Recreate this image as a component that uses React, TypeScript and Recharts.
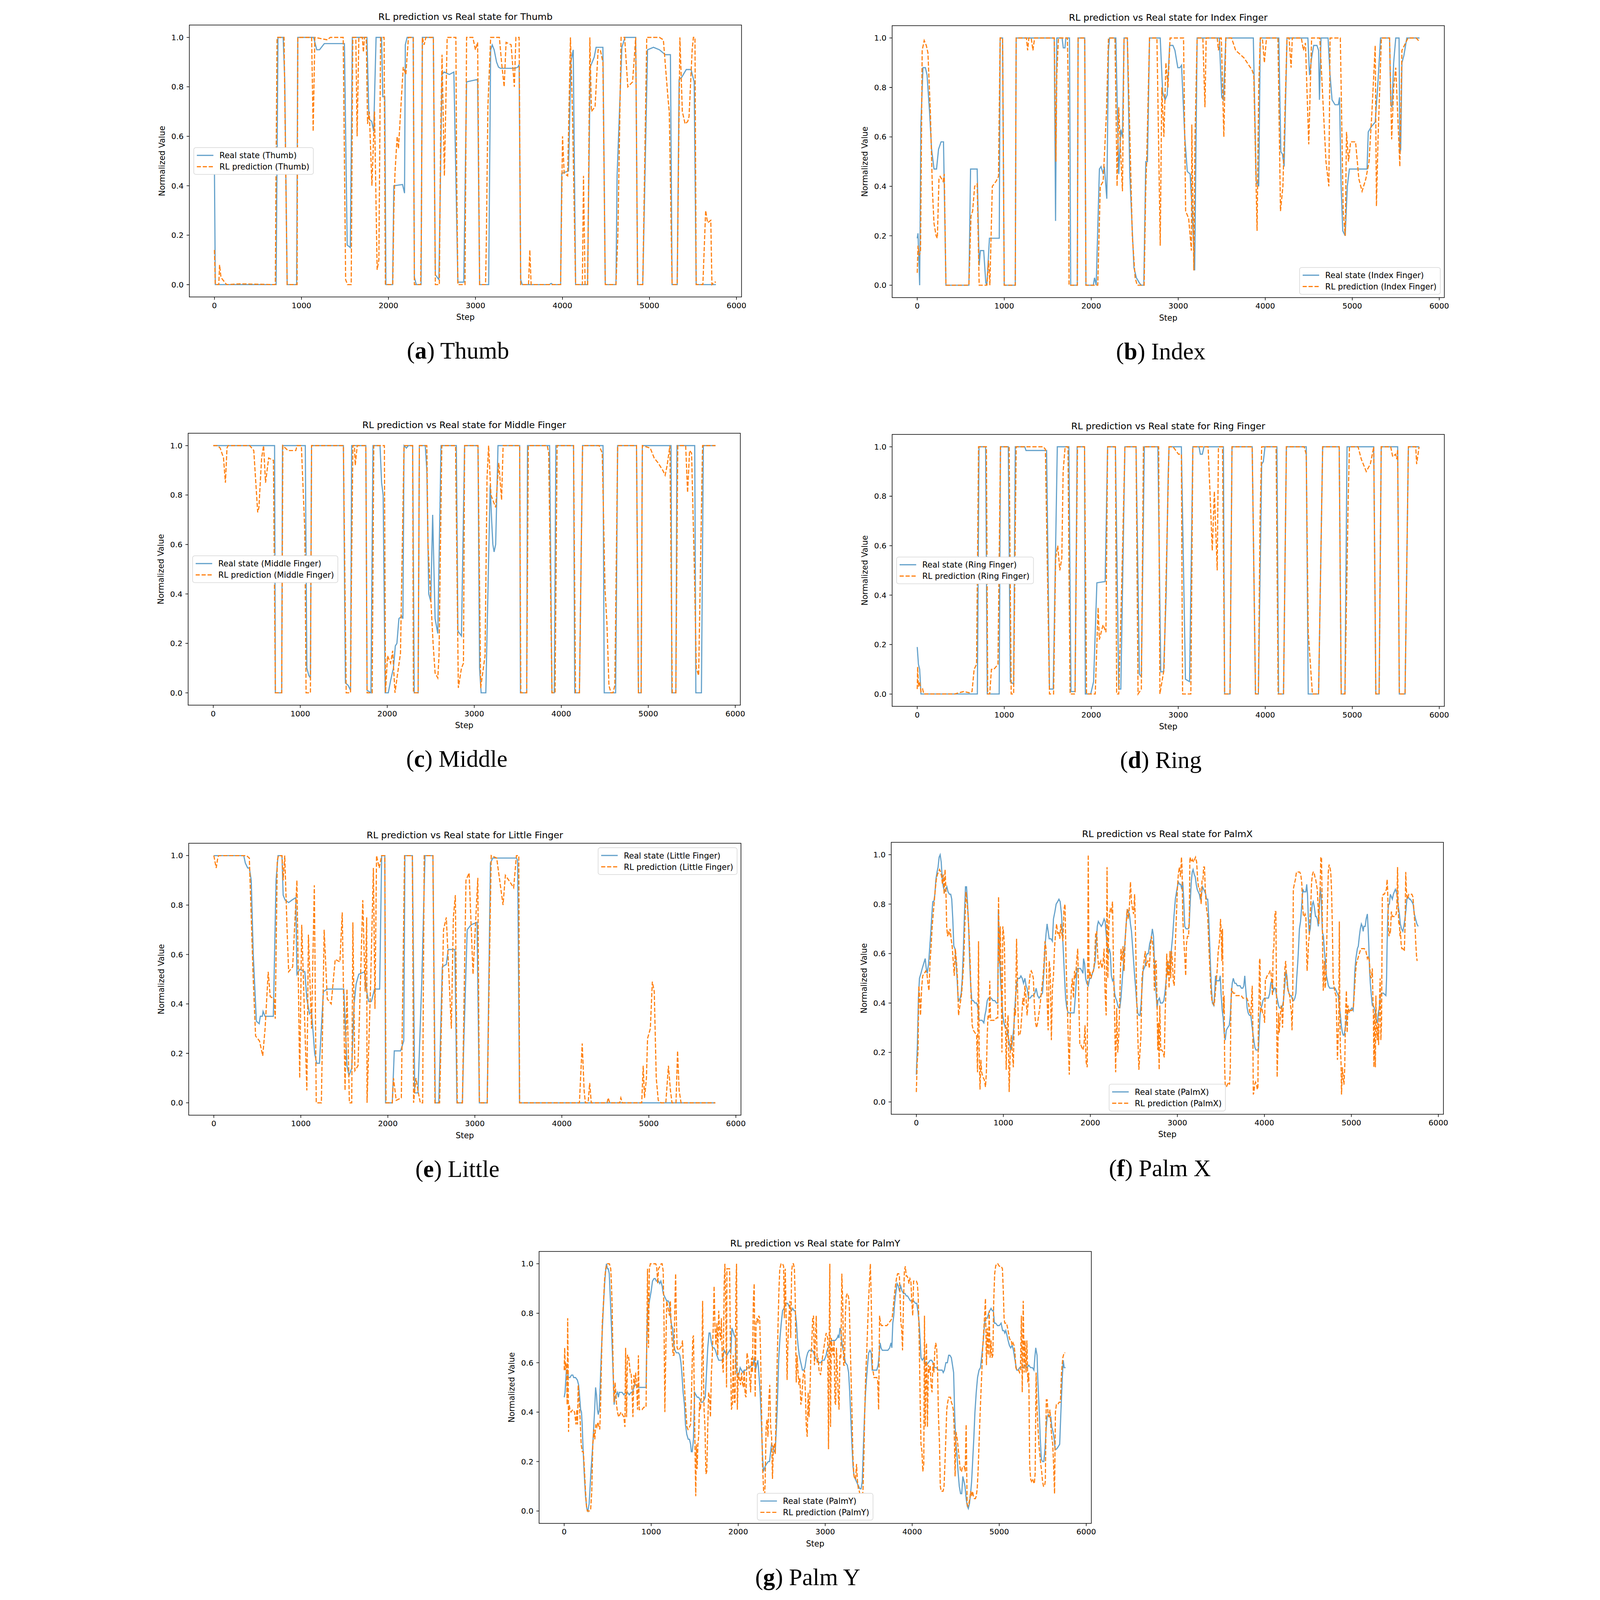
import { LineChart, Line, XAxis, YAxis } from 'recharts'

type Pt = [number, number]

// step / value pairs
const thumbReal: Pt[] = [[0,0.47],[10,0],[709,0],[730,1],[790,1],[808,0.83],[836,0],[945,0],[958,1],[1140,1],[1176,0.95],[1208,0.95],[1263,0.975],[1494,0.975],[1526,0.16],[1562,0.15],[1585,1],[1753,1],[1776,0.67],[1808,0.66],[1830,0.62],[1858,1],[1921,1],[1935,0.76],[1958,0.76],[1971,0],[2048,0],[2062,0.4],[2162,0.405],[2185,0.37],[2194,0.97],[2215,1],[2285,1],[2298,0.03],[2320,0],[2375,0],[2390,1],[2516,1],[2539,0.04],[2580,0.02],[2616,0.85],[2640,0.86],[2700,0.85],[2752,0.86],[2798,0.01],[2866,0.01],[2898,0.82],[3025,0.83],[3048,0],[3152,0],[3175,0.95],[3193,0.97],[3215,0.95],[3243,0.9],[3265,0.88],[3288,0.875],[3456,0.875],[3488,0.88],[3502,0.89],[3520,0.02],[3538,0],[3850,0],[3870,0.005],[3890,0],[3979,0],[3992,0.45],[4070,0.46],[4097,0.9],[4124,0.95],[4151,0],[4288,0],[4319,0.88],[4365,0.92],[4387,0.96],[4465,0.96],[4492,0],[4615,0],[4628,0.44],[4683,0.96],[4719,1],[4842,1],[4864,0],[4923,0],[4978,0.95],[5046,0.96],[5115,0.95],[5182,0.93],[5241,0.93],[5260,0],[5319,0],[5341,0.83],[5373,0.84],[5423,0.87],[5478,0.87],[5514,0.82],[5537,0],[5764,0]]
const thumbPred: Pt[] = [[0,0.14],[10,0],[50,0],[59,0.08],[75,0.03],[95,0.02],[140,0],[300,0.003],[700,0],[709,0.5],[720,1],[800,1],[836,0],[950,0],[958,1],[1117,1],[1135,0.62],[1154,1],[1300,0.99],[1330,1],[1480,1],[1508,0.02],[1530,0],[1572,0],[1590,1],[1625,1],[1640,0.6],[1660,1],[1700,1],[1712,0.94],[1725,1],[1745,1],[1760,0.65],[1780,0.7],[1790,0.6],[1810,0.4],[1840,0.7],[1870,0.06],[1890,0.1],[1910,1],[1950,1],[1965,0],[2050,0],[2062,0.3],[2075,0.45],[2100,0.6],[2115,0.55],[2140,0.7],[2170,0.88],[2200,0.85],[2230,1],[2285,1],[2298,0],[2370,0],[2378,0.2],[2390,1],[2410,0.97],[2430,1],[2516,1],[2539,0],[2585,0],[2600,0.6],[2616,0.93],[2643,0.44],[2675,1],[2775,1],[2784,0.45],[2798,0],[2880,0],[2898,1],[2970,1],[3000,0.95],[3025,0.98],[3048,0],[3116,0],[3125,0.17],[3143,0.72],[3175,1],[3275,1],[3300,0.9],[3330,0.8],[3352,0.98],[3410,0.97],[3447,0.8],[3465,1],[3502,1],[3520,0],[3610,0],[3625,0.14],[3640,0],[3979,0],[4001,0.6],[4020,0.45],[4060,0.44],[4092,1],[4115,0.7],[4151,0],[4229,0],[4242,0.44],[4260,0],[4290,0],[4315,1],[4333,0.7],[4375,0.72],[4410,0.95],[4435,0.95],[4465,0.9],[4492,0],[4615,0],[4637,0.2],[4674,1],[4715,1],[4751,0.8],[4806,0.82],[4842,1],[4864,0],[4923,0],[4969,1],[5115,1],[5160,0.99],[5214,0.75],[5228,0.7],[5260,0],[5319,0],[5350,1],[5378,0.7],[5410,0.65],[5440,0.66],[5455,0.68],[5491,0.95],[5505,1],[5523,1],[5537,0],[5614,0],[5646,0.3],[5668,0.25],[5705,0.26],[5718,0],[5750,0.01],[5764,0.01]]

const indexReal: Pt[] = [[0,0.19],[9,0.21],[28,0],[42,0.65],[66,0.88],[94,0.88],[113,0.85],[142,0.7],[165,0.55],[193,0.47],[222,0.47],[245,0.55],[274,0.58],[302,0.58],[330,0],[594,0],[613,0.47],[689,0.47],[712,0.08],[726,0.14],[764,0.14],[788,0.01],[800,0],[830,0.19],[943,0.19],[953,1],[981,1],[1000,0],[1127,0],[1137,1],[1575,1],[1590,0.26],[1604,1],[1665,1],[1679,0.96],[1698,0.96],[1708,1],[1750,1],[1764,0],[1840,0],[1849,1],[1925,1],[1939,0],[2024,0],[2038,0.03],[2057,0],[2094,0.47],[2113,0.48],[2137,0.45],[2151,0.48],[2179,0.35],[2198,0.95],[2210,1],[2283,1],[2316,0.45],[2340,0.63],[2359,0.6],[2377,1],[2415,1],[2443,0.45],[2472,0.22],[2491,0.07],[2519,0.03],[2552,0.01],[2575,0],[2604,0],[2627,0.5],[2646,0.5],[2670,1],[2793,1],[2821,0.78],[2849,0.75],[2873,0.77],[2901,0.97],[2939,0.97],[2962,0.95],[2995,0.88],[3019,0.88],[3038,0.89],[3075,0.6],[3104,0.46],[3137,0.45],[3160,0.3],[3189,0.06],[3217,1],[3472,1],[3500,0.76],[3519,0.75],[3547,1],[3863,1],[3896,0.42],[3925,0.4],[3943,1],[4156,1],[4179,0.54],[4198,0.53],[4217,0.48],[4250,1],[4490,1],[4509,0.85],[4533,0.92],[4557,0.97],[4594,0.97],[4613,0.95],[4623,0.75],[4641,1],[4722,1],[4745,0.85],[4768,0.75],[4802,0.73],[4840,0.73],[4854,0.76],[4872,0.4],[4891,0.22],[4919,0.2],[4943,0.4],[4967,0.47],[5170,0.47],[5184,0.62],[5217,0.64],[5264,0.66],[5292,0.8],[5325,1],[5429,1],[5443,0.73],[5457,0.72],[5476,0.9],[5500,1],[5538,1],[5547,0.53],[5557,0.55],[5571,0.9],[5594,0.93],[5627,1],[5773,1]]
const indexPred: Pt[] = [[0,0.05],[9,0.16],[24,0.12],[38,0.14],[57,0.95],[80,0.99],[104,0.97],[123,0.94],[151,0.7],[175,0.38],[193,0.25],[217,0.2],[231,0.19],[250,0.43],[264,0.44],[297,0.42],[311,0.45],[330,0],[594,0],[618,0.28],[637,0.3],[660,0.4],[689,0.41],[712,0],[800,0],[820,0.1],[835,0],[863,0.4],[906,0.42],[934,0.44],[953,1],[981,1],[1000,0],[1127,0],[1137,1],[1255,1],[1269,0.95],[1283,1],[1310,1],[1330,0.95],[1349,1],[1575,1],[1594,0.5],[1604,0.85],[1623,1],[1726,1],[1736,0.8],[1745,0],[1840,0],[1849,1],[1925,1],[1939,0],[2075,0],[2104,0.4],[2137,0.42],[2175,0.7],[2198,1],[2273,1],[2297,0.4],[2316,0.72],[2330,0.6],[2359,0.38],[2377,1],[2415,1],[2443,0.62],[2472,0.2],[2505,0.03],[2528,0],[2608,0],[2627,0.4],[2637,0.5],[2670,1],[2755,1],[2793,0.16],[2811,0.8],[2835,0.6],[2858,0.9],[2882,0.8],[2906,1],[3061,1],[3085,0.3],[3120,0.27],[3151,0.14],[3156,0.65],[3179,0.06],[3193,0.6],[3217,1],[3283,1],[3307,0.72],[3321,1],[3448,1],[3462,0.95],[3481,1],[3495,1],[3524,0.6],[3547,1],[3613,1],[3660,0.95],[3755,0.92],[3849,0.87],[3868,0.85],[3906,0.22],[3925,0.8],[3943,1],[3967,1],[3990,0.9],[4014,1],[4146,1],[4175,0.3],[4203,0.4],[4250,1],[4274,1],[4297,0.88],[4311,1],[4415,1],[4439,0.95],[4462,0.98],[4500,0.57],[4533,1],[4627,1],[4698,0.5],[4731,0.4],[4745,1],[4863,1],[4896,0.3],[4919,0.2],[4934,0.62],[4957,0.5],[4981,0.58],[5038,0.58],[5076,0.43],[5113,0.38],[5156,0.43],[5193,0.5],[5226,0.7],[5264,0.97],[5278,0.32],[5297,0.6],[5335,1],[5429,1],[5453,0.59],[5476,0.8],[5500,0.88],[5547,0.48],[5571,0.95],[5641,1],[5735,1],[5773,0.985]]

const middleReal: Pt[] = [[0,1],[705,1],[714,0],[787,0],[796,1],[1058,1],[1076,0.1],[1099,0.07],[1117,0.06],[1130,1],[1496,1],[1519,0.04],[1551,0.03],[1578,0.01],[1591,1],[1754,1],[1768,0.01],[1813,0],[1836,1],[1917,1],[1935,0.85],[1953,0.8],[1976,0],[2012,0],[2039,0.05],[2071,0.1],[2093,0.19],[2111,0.2],[2134,0.3],[2166,0.31],[2180,0.3],[2193,1],[2220,0.99],[2243,1],[2292,1],[2310,0],[2355,0],[2369,1],[2437,1],[2455,0.9],[2477,0.4],[2500,0.37],[2522,0.72],[2550,0.3],[2581,0.24],[2618,1],[2794,1],[2812,0.25],[2853,0.23],[2889,1],[3043,1],[3061,0.1],[3079,0],[3133,0],[3183,0.84],[3201,0.69],[3214,0.6],[3228,0.57],[3246,0.6],[3273,1],[3522,1],[3531,0],[3603,0],[3612,1],[3866,1],[3893,0],[3920,0],[3938,1],[4141,1],[4155,0],[4209,0],[4245,1],[4480,1],[4494,0],[4625,0],[4648,1],[4865,1],[4887,0],[4918,0],[4932,1],[5262,1],[5271,0],[5317,0],[5330,1],[5534,1],[5547,0],[5611,0],[5633,1],[5773,1]]
const middlePred: Pt[] = [[0,1],[50,1],[80,0.99],[118,0.95],[140,0.85],[158,0.99],[170,1],[420,1],[466,0.98],[511,0.73],[525,0.75],[556,0.95],[579,1],[601,0.85],[637,0.95],[692,0.94],[714,0],[787,0],[800,1],[859,0.98],[949,0.98],[963,1],[1013,1],[1053,0.65],[1067,0],[1117,0],[1130,1],[1496,1],[1528,0],[1578,0],[1587,0.4],[1605,1],[1623,1],[1632,0.92],[1655,1],[1754,1],[1768,0],[1827,0],[1845,1],[1967,1],[1980,0],[2003,0.15],[2039,0.12],[2062,0.17],[2089,0],[2116,0.07],[2152,0.16],[2193,1],[2292,1],[2301,0],[2355,0],[2369,1],[2455,1],[2468,0.6],[2527,0.2],[2550,0.08],[2581,0.06],[2595,0.15],[2627,1],[2785,1],[2817,0.02],[2853,0.1],[2876,0.12],[2889,1],[3043,1],[3074,0.02],[3124,0.15],[3147,0.87],[3165,1],[3192,0.8],[3246,0.75],[3282,0.93],[3314,0.78],[3332,1],[3522,1],[3535,0],[3603,0],[3621,1],[3839,1],[3856,0.97],[3893,0],[3929,0],[3952,1],[4141,1],[4164,0],[4209,0],[4245,1],[4435,1],[4471,0.97],[4503,0.42],[4525,0.28],[4548,0.03],[4571,0],[4594,0],[4616,0.03],[4648,1],[4865,1],[4887,0],[4918,0],[4932,1],[5023,0.99],[5068,0.95],[5113,0.93],[5167,0.9],[5194,0.88],[5217,0.92],[5249,1],[5276,0],[5317,0],[5339,1],[5430,1],[5452,0.81],[5475,0.98],[5498,0.97],[5530,0.5],[5552,0.1],[5579,0.07],[5624,1],[5773,1]]

const ringReal: Pt[] = [[0,0.19],[14,0.12],[28,0.1],[43,0],[691,0],[710,1],[786,1],[805,0],[942,0],[957,1],[1047,1],[1070,0.05],[1108,0.04],[1127,1],[1236,1],[1250,0.985],[1487,0.985],[1520,0.02],[1563,0.02],[1610,1],[1743,1],[1767,0.01],[1814,0.01],[1838,1],[1923,1],[1932,0],[1994,0],[2027,0.05],[2065,0.45],[2160,0.455],[2188,1],[2278,1],[2316,0.02],[2340,0.02],[2387,1],[2515,1],[2553,0.08],[2576,0.07],[2610,1],[2766,1],[2799,0.09],[2832,0.09],[2861,0.4],[2884,0.88],[2894,1],[3036,1],[3083,0.06],[3130,0.05],[3168,1],[3239,1],[3254,0.97],[3277,0.97],[3296,1],[3519,1],[3533,0],[3595,0],[3618,1],[3850,1],[3888,0],[3921,0],[3959,0.93],[3978,0.94],[3997,1],[4134,1],[4153,0],[4210,0],[4243,1],[4471,1],[4494,0],[4613,0],[4660,1],[4850,1],[4873,0],[4916,0],[4940,1],[5247,1],[5271,0],[5309,0],[5333,1],[5522,1],[5541,0],[5607,0],[5645,1],[5768,1]]
const ringPred: Pt[] = [[0,0.02],[5,0.11],[14,0.03],[28,0.05],[43,0.01],[62,0.02],[76,0],[431,0],[478,0.005],[535,0.01],[597,0.005],[630,0.01],[654,0.1],[682,0.12],[705,1],[795,1],[810,0],[833,0],[853,0.1],[881,0.1],[928,0.12],[957,1],[1056,1],[1080,0],[1108,0],[1137,1],[1449,1],[1473,0.99],[1520,0],[1567,0],[1591,0.55],[1615,0.6],[1639,0.5],[1662,0.55],[1677,0.9],[1700,1],[1733,1],[1757,0],[1814,0],[1842,1],[1923,1],[1946,0],[2046,0],[2079,0.35],[2093,0.22],[2136,0.28],[2169,0.25],[2188,1],[2278,1],[2292,0],[2316,0],[2349,0.42],[2387,1],[2515,1],[2538,0],[2576,0.02],[2600,1],[2775,1],[2789,0],[2813,0.05],[2837,0.1],[2894,1],[2941,1],[3003,0.97],[3036,0.97],[3050,0],[3145,0],[3168,1],[3343,1],[3367,0.8],[3391,0.58],[3415,0.82],[3448,0.5],[3462,1],[3509,1],[3533,0],[3595,0],[3618,1],[3850,1],[3888,0],[3921,0],[3940,0.7],[3959,1],[4125,1],[4148,0],[4210,0],[4243,1],[4447,1],[4471,0.97],[4494,0.25],[4523,0.1],[4542,0],[4613,0],[4660,1],[4850,1],[4873,0],[4916,0],[4954,0.8],[4968,1],[5067,1],[5104,0.95],[5161,0.9],[5208,0.93],[5247,1],[5271,0],[5309,0],[5333,1],[5442,1],[5465,0.96],[5498,0.97],[5512,0.95],[5522,0.99],[5541,0],[5607,0],[5645,1],[5730,1],[5740,0.93],[5768,1]]

const littleReal: Pt[] = [[0,1],[344,1],[362,0.97],[389,0.95],[408,0.95],[430,0.9],[453,0.6],[489,0.33],[521,0.32],[534,0.35],[557,0.35],[566,0.37],[589,0.35],[684,0.35],[715,0.9],[738,1],[783,1],[797,0.84],[820,0.82],[860,0.81],[897,0.82],[942,0.83],[955,0.52],[987,0.54],[1046,0.53],[1069,0.42],[1100,0.36],[1123,0.37],[1159,0.2],[1182,0.16],[1214,0.16],[1259,0.45],[1304,0.46],[1494,0.46],[1530,0.15],[1553,0.11],[1585,0.14],[1612,0.4],[1635,0.48],[1666,0.52],[1734,0.53],[1757,0.45],[1779,0.41],[1811,0.41],[1847,0.46],[1906,0.46],[1929,1],[1965,1],[1974,0],[2051,0],[2074,0.21],[2146,0.21],[2183,0.25],[2196,1],[2282,1],[2309,0.04],[2346,0.04],[2391,0.5],[2427,1],[2518,1],[2545,0],[2586,0],[2626,0.55],[2672,0.56],[2694,0.62],[2771,0.62],[2794,0],[2857,0],[2871,0.22],[2912,0.7],[2957,0.72],[3025,0.73],[3052,0],[3142,0],[3179,0.97],[3206,0.99],[3478,0.99],[3492,0.98],[3514,0],[5764,0]]
const littlePred: Pt[] = [[0,1],[27,0.95],[45,0.99],[55,1],[375,1],[408,0.99],[453,0.5],[480,0.27],[525,0.25],[562,0.19],[589,0.3],[625,0.53],[648,0.43],[693,0.42],[706,0.34],[729,0.98],[743,1],[783,1],[797,0.9],[815,1],[842,0.7],[860,0.53],[906,0.55],[955,0.9],[987,0.1],[1010,0.72],[1069,0.05],[1087,0.68],[1123,0.3],[1155,0.88],[1177,0],[1236,0],[1268,0.7],[1304,0.42],[1349,0.4],[1395,0.58],[1449,0.57],[1476,0.77],[1508,0.05],[1530,0.46],[1558,0],[1585,0],[1598,0.73],[1621,0.13],[1657,0.15],[1712,0.82],[1739,0.45],[1757,0.75],[1761,0],[1802,0.48],[1834,0.95],[1852,0.38],[1870,1],[1901,0.95],[1929,1],[1965,1],[1979,0],[2051,0],[2065,0.1],[2096,0.01],[2155,0.02],[2192,1],[2282,1],[2296,0],[2323,0.1],[2346,0.05],[2373,0],[2400,0],[2418,1],[2518,1],[2541,0],[2595,0],[2640,0.7],[2672,0.75],[2730,0.3],[2753,0.75],[2776,0.84],[2798,0],[2857,0],[2898,0.9],[2934,0.93],[2979,0.52],[3034,0.91],[3052,0],[3142,0],[3188,1],[3251,0.99],[3324,0.8],[3351,0.92],[3410,0.89],[3446,0.87],[3478,1],[3505,1],[3514,0],[4202,0],[4234,0.24],[4256,0.05],[4270,0],[4302,0],[4320,0.08],[4338,0],[4520,0],[4533,0.02],[4550,0],[4665,0],[4678,0.02],[4695,0],[4918,0],[4935,0.15],[4950,0.02],[4972,0.1],[4985,0.26],[5017,0.3],[5040,0.49],[5062,0.45],[5085,0.1],[5108,0.01],[5140,0],[5195,0],[5225,0.15],[5248,0.05],[5266,0],[5312,0],[5330,0.21],[5348,0.05],[5370,0],[5764,0]]

const palmXReal: Pt[] = [[0,0.11],[12,0.23],[24,0.42],[36,0.5],[53,0.52],[68,0.54],[85,0.56],[102,0.58],[114,0.54],[126,0.52],[141,0.56],[153,0.62],[165,0.68],[177,0.75],[189,0.81],[201,0.81],[213,0.84],[225,0.9],[238,0.93],[250,0.95],[262,0.99],[274,1.0],[286,0.97],[298,0.9],[310,0.87],[325,0.85],[339,0.86],[351,0.87],[364,0.85],[381,0.84],[395,0.84],[407,0.82],[419,0.74],[431,0.63],[444,0.62],[456,0.57],[468,0.5],[480,0.42],[492,0.41],[504,0.42],[516,0.44],[528,0.5],[541,0.62],[553,0.76],[565,0.87],[577,0.87],[589,0.8],[601,0.71],[613,0.57],[625,0.47],[638,0.41],[655,0.41],[674,0.4],[693,0.4],[708,0.38],[720,0.33],[739,0.33],[756,0.33],[776,0.32],[788,0.35],[800,0.37],[815,0.41],[829,0.42],[844,0.42],[861,0.42],[880,0.41],[902,0.41],[921,0.4],[936,0.4],[943,0.78],[953,0.65],[960,0.56],[970,0.48],[982,0.42],[994,0.35],[1006,0.32],[1023,0.3],[1038,0.3],[1055,0.27],[1072,0.23],[1086,0.21],[1103,0.24],[1120,0.3],[1139,0.42],[1154,0.48],[1168,0.5],[1188,0.5],[1202,0.51],[1217,0.5],[1232,0.48],[1248,0.5],[1261,0.47],[1273,0.46],[1290,0.42],[1309,0.42],[1328,0.43],[1345,0.43],[1362,0.44],[1377,0.46],[1394,0.43],[1411,0.42],[1430,0.43],[1450,0.44],[1467,0.53],[1479,0.63],[1491,0.68],[1503,0.72],[1515,0.69],[1527,0.66],[1547,0.66],[1564,0.65],[1576,0.74],[1593,0.77],[1607,0.8],[1624,0.81],[1639,0.82],[1653,0.81],[1668,0.76],[1680,0.68],[1692,0.59],[1704,0.5],[1716,0.42],[1729,0.38],[1745,0.36],[1765,0.36],[1782,0.36],[1799,0.36],[1813,0.36],[1830,0.44],[1847,0.54],[1867,0.54],[1886,0.54],[1903,0.53],[1915,0.52],[1922,0.58],[1934,0.56],[1946,0.5],[1959,0.48],[1976,0.47],[1993,0.5],[2007,0.5],[2024,0.52],[2041,0.54],[2056,0.57],[2068,0.65],[2080,0.71],[2092,0.73],[2109,0.72],[2126,0.71],[2141,0.72],[2158,0.74],[2170,0.73],[2182,0.68],[2194,0.63],[2206,0.6],[2218,0.62],[2230,0.6],[2242,0.51],[2255,0.49],[2267,0.5],[2279,0.44],[2291,0.42],[2303,0.41],[2315,0.39],[2327,0.38],[2339,0.38],[2352,0.42],[2364,0.48],[2376,0.54],[2388,0.6],[2400,0.66],[2412,0.72],[2424,0.78],[2436,0.77],[2449,0.76],[2461,0.72],[2473,0.69],[2485,0.63],[2497,0.57],[2509,0.51],[2521,0.46],[2533,0.4],[2545,0.36],[2558,0.35],[2570,0.35],[2582,0.39],[2594,0.46],[2606,0.53],[2618,0.54],[2630,0.55],[2642,0.59],[2655,0.6],[2667,0.6],[2682,0.64],[2698,0.66],[2713,0.7],[2726,0.67],[2736,0.57],[2752,0.46],[2767,0.38],[2778,0.41],[2794,0.42],[2806,0.4],[2829,0.4],[2845,0.41],[2860,0.45],[2876,0.51],[2891,0.56],[2915,0.53],[2930,0.61],[2946,0.67],[2961,0.75],[2977,0.82],[2995,0.86],[3011,0.89],[3026,0.88],[3039,0.88],[3051,0.86],[3062,0.89],[3073,0.82],[3085,0.71],[3101,0.7],[3124,0.7],[3135,0.71],[3147,0.8],[3160,0.89],[3171,0.93],[3181,0.94],[3194,0.92],[3206,0.91],[3217,0.88],[3228,0.86],[3240,0.85],[3253,0.84],[3264,0.82],[3271,0.82],[3281,0.85],[3290,0.87],[3302,0.86],[3315,0.85],[3326,0.84],[3336,0.82],[3349,0.82],[3360,0.75],[3372,0.64],[3383,0.53],[3392,0.46],[3403,0.4],[3419,0.39],[3429,0.44],[3439,0.51],[3450,0.49],[3465,0.49],[3481,0.49],[3493,0.51],[3504,0.43],[3516,0.37],[3527,0.34],[3538,0.28],[3550,0.25],[3563,0.29],[3578,0.3],[3597,0.31],[3609,0.35],[3620,0.43],[3631,0.48],[3643,0.5],[3659,0.48],[3674,0.48],[3690,0.47],[3705,0.47],[3721,0.47],[3736,0.46],[3752,0.46],[3764,0.47],[3775,0.51],[3783,0.47],[3792,0.43],[3802,0.38],[3814,0.36],[3829,0.35],[3845,0.35],[3857,0.31],[3868,0.28],[3879,0.25],[3891,0.22],[3904,0.21],[3919,0.21],[3932,0.21],[3941,0.28],[3950,0.35],[3961,0.38],[3972,0.39],[3984,0.41],[4000,0.42],[4016,0.42],[4031,0.42],[4047,0.42],[4062,0.44],[4074,0.48],[4085,0.49],[4096,0.47],[4105,0.45],[4116,0.46],[4127,0.46],[4140,0.43],[4152,0.41],[4163,0.39],[4174,0.38],[4186,0.38],[4198,0.38],[4209,0.39],[4220,0.41],[4229,0.45],[4239,0.49],[4248,0.53],[4259,0.51],[4270,0.46],[4282,0.44],[4295,0.43],[4310,0.43],[4326,0.41],[4338,0.41],[4351,0.42],[4363,0.44],[4372,0.5],[4385,0.57],[4394,0.63],[4403,0.7],[4416,0.73],[4425,0.77],[4434,0.82],[4443,0.86],[4454,0.85],[4465,0.85],[4477,0.85],[4487,0.88],[4496,0.84],[4505,0.75],[4516,0.68],[4528,0.7],[4540,0.76],[4551,0.8],[4562,0.81],[4574,0.79],[4588,0.75],[4597,0.75],[4608,0.74],[4620,0.71],[4633,0.8],[4643,0.87],[4654,0.82],[4666,0.69],[4679,0.67],[4690,0.61],[4701,0.57],[4713,0.51],[4725,0.49],[4736,0.47],[4752,0.46],[4767,0.46],[4783,0.46],[4798,0.46],[4814,0.46],[4825,0.45],[4837,0.44],[4850,0.43],[4860,0.39],[4872,0.36],[4884,0.31],[4897,0.28],[4907,0.27],[4918,0.27],[4930,0.3],[4943,0.33],[4953,0.36],[4969,0.37],[4983,0.37],[5006,0.38],[5021,0.37],[5029,0.43],[5040,0.53],[5052,0.58],[5069,0.62],[5080,0.63],[5092,0.67],[5103,0.7],[5115,0.72],[5126,0.71],[5136,0.69],[5144,0.71],[5159,0.71],[5170,0.74],[5184,0.76],[5193,0.7],[5201,0.63],[5209,0.54],[5218,0.48],[5230,0.43],[5241,0.39],[5253,0.39],[5264,0.38],[5276,0.36],[5287,0.33],[5299,0.32],[5310,0.36],[5322,0.38],[5333,0.43],[5345,0.44],[5368,0.44],[5397,0.43],[5405,0.5],[5411,0.64],[5420,0.77],[5428,0.8],[5437,0.8],[5448,0.84],[5460,0.83],[5471,0.82],[5483,0.84],[5494,0.85],[5506,0.86],[5517,0.85],[5529,0.83],[5540,0.79],[5552,0.76],[5563,0.72],[5577,0.7],[5592,0.69],[5603,0.71],[5615,0.74],[5626,0.77],[5638,0.82],[5653,0.83],[5667,0.82],[5678,0.82],[5695,0.81],[5710,0.8],[5724,0.76],[5738,0.74],[5753,0.72],[5768,0.71]]
const palmXPred: Pt[] = [[0,0.04],[10,0.16],[19,0.2],[29,0.47],[39,0.42],[48,0.35],[61,0.46],[73,0.51],[92,0.52],[109,0.53],[121,0.52],[133,0.48],[145,0.45],[158,0.57],[170,0.63],[182,0.71],[194,0.76],[206,0.81],[218,0.86],[230,0.9],[242,0.92],[255,0.93],[267,0.94],[279,0.93],[291,0.91],[300,0.88],[310,0.92],[320,0.84],[330,0.94],[339,0.87],[349,0.71],[359,0.67],[368,0.69],[378,0.68],[388,0.7],[400,0.66],[412,0.63],[424,0.57],[436,0.51],[448,0.62],[461,0.57],[473,0.5],[485,0.35],[497,0.38],[509,0.41],[521,0.44],[533,0.5],[545,0.57],[558,0.72],[570,0.85],[582,0.81],[594,0.76],[606,0.68],[618,0.57],[630,0.42],[642,0.31],[655,0.29],[674,0.28],[693,0.27],[703,0.12],[715,0.65],[722,0.2],[732,0.05],[742,0.17],[751,0.12],[766,0.1],[781,0.09],[795,0.06],[805,0.12],[815,0.27],[824,0.35],[836,0.34],[844,0.49],[853,0.33],[868,0.33],[885,0.33],[902,0.33],[921,0.34],[936,0.34],[945,0.83],[955,0.56],[965,0.71],[975,0.51],[984,0.2],[994,0.71],[1004,0.68],[1013,0.63],[1023,0.35],[1033,0.13],[1042,0.3],[1055,0.35],[1067,0.04],[1079,0.2],[1091,0.27],[1103,0.2],[1115,0.14],[1127,0.38],[1139,0.35],[1152,0.66],[1164,0.44],[1176,0.27],[1188,0.27],[1200,0.29],[1212,0.35],[1224,0.42],[1236,0.39],[1248,0.47],[1261,0.42],[1273,0.35],[1285,0.4],[1297,0.48],[1309,0.52],[1321,0.53],[1333,0.52],[1345,0.5],[1358,0.38],[1370,0.32],[1382,0.3],[1394,0.32],[1406,0.35],[1418,0.38],[1430,0.42],[1442,0.46],[1455,0.5],[1467,0.56],[1479,0.65],[1491,0.62],[1503,0.42],[1515,0.29],[1527,0.57],[1539,0.53],[1552,0.25],[1564,0.46],[1576,0.51],[1588,0.62],[1600,0.68],[1612,0.72],[1624,0.68],[1636,0.69],[1649,0.66],[1661,0.72],[1673,0.68],[1685,0.65],[1697,0.78],[1709,0.8],[1721,0.57],[1733,0.42],[1745,0.27],[1758,0.11],[1770,0.35],[1782,0.46],[1794,0.5],[1806,0.42],[1818,0.53],[1830,0.5],[1842,0.57],[1855,0.62],[1867,0.42],[1879,0.23],[1891,0.23],[1903,0.22],[1915,0.21],[1927,0.23],[1939,0.31],[1952,0.16],[1964,0.14],[1976,1.0],[1985,0.5],[1995,0.53],[2007,0.5],[2019,0.52],[2036,0.53],[2048,0.57],[2061,0.68],[2073,0.69],[2085,0.59],[2097,0.54],[2109,0.56],[2121,0.57],[2133,0.54],[2145,0.56],[2158,0.62],[2170,0.44],[2182,0.35],[2192,0.95],[2201,0.5],[2212,0.71],[2221,0.76],[2230,0.78],[2242,0.77],[2255,0.81],[2267,0.53],[2279,0.35],[2291,0.12],[2303,0.38],[2315,0.2],[2327,0.27],[2339,0.42],[2352,0.62],[2364,0.57],[2376,0.63],[2388,0.53],[2400,0.65],[2412,0.72],[2424,0.78],[2436,0.74],[2449,0.79],[2461,0.89],[2473,0.81],[2485,0.78],[2497,0.76],[2509,0.84],[2521,0.65],[2533,0.42],[2545,0.27],[2558,0.13],[2570,0.2],[2582,0.27],[2594,0.5],[2606,0.54],[2618,0.57],[2630,0.61],[2642,0.55],[2655,0.57],[2667,0.57],[2678,0.54],[2690,0.62],[2701,0.67],[2713,0.65],[2726,0.61],[2736,0.45],[2747,0.57],[2757,0.57],[2767,0.39],[2775,0.21],[2782,0.32],[2791,0.13],[2798,0.39],[2809,0.21],[2822,0.21],[2837,0.2],[2850,0.18],[2860,0.36],[2868,0.44],[2878,0.6],[2887,0.51],[2896,0.57],[2905,0.46],[2915,0.61],[2924,0.5],[2933,0.61],[2943,0.57],[2953,0.49],[2964,0.47],[2977,0.64],[2991,0.77],[3000,0.86],[3011,0.92],[3023,0.95],[3036,0.91],[3047,0.99],[3054,0.95],[3062,0.75],[3073,0.66],[3085,0.59],[3096,0.51],[3105,0.64],[3116,0.67],[3129,0.67],[3138,0.75],[3144,0.99],[3155,0.98],[3166,0.97],[3175,0.98],[3186,0.97],[3197,0.98],[3209,0.99],[3222,0.97],[3233,0.9],[3243,0.87],[3256,0.87],[3265,0.84],[3274,0.8],[3284,0.9],[3295,0.9],[3302,0.95],[3312,0.95],[3321,0.86],[3330,0.8],[3340,0.77],[3349,0.75],[3358,0.67],[3367,0.59],[3377,0.51],[3388,0.44],[3398,0.41],[3411,0.4],[3423,0.39],[3434,0.43],[3445,0.48],[3457,0.53],[3470,0.61],[3481,0.64],[3488,0.67],[3496,0.74],[3504,0.69],[3512,0.57],[3519,0.7],[3526,0.43],[3532,0.36],[3538,0.43],[3544,0.14],[3550,0.07],[3563,0.06],[3575,0.07],[3589,0.08],[3600,0.07],[3609,0.14],[3615,0.36],[3622,0.46],[3631,0.45],[3643,0.44],[3659,0.44],[3674,0.43],[3690,0.43],[3705,0.43],[3721,0.43],[3736,0.43],[3752,0.42],[3767,0.42],[3783,0.42],[3798,0.42],[3810,0.41],[3822,0.39],[3833,0.36],[3845,0.35],[3855,0.43],[3861,0.47],[3867,0.32],[3873,0.03],[3881,0.04],[3889,0.07],[3899,0.08],[3910,0.07],[3919,0.05],[3926,0.06],[3932,0.36],[3938,0.39],[3944,0.57],[3950,0.58],[3956,0.36],[3963,0.38],[3972,0.38],[3981,0.36],[3992,0.36],[4003,0.32],[4012,0.5],[4022,0.5],[4031,0.51],[4043,0.51],[4054,0.52],[4065,0.53],[4074,0.53],[4084,0.49],[4093,0.43],[4101,0.61],[4109,0.62],[4116,0.72],[4124,0.77],[4132,0.77],[4140,0.43],[4147,0.1],[4155,0.21],[4163,0.36],[4171,0.28],[4178,0.32],[4186,0.36],[4194,0.39],[4202,0.37],[4209,0.3],[4217,0.39],[4226,0.46],[4236,0.54],[4245,0.57],[4254,0.51],[4264,0.47],[4273,0.45],[4282,0.44],[4292,0.43],[4301,0.39],[4310,0.37],[4318,0.29],[4326,0.39],[4333,0.86],[4344,0.88],[4357,0.9],[4369,0.93],[4381,0.93],[4394,0.93],[4406,0.93],[4419,0.92],[4431,0.88],[4440,0.79],[4450,0.75],[4459,0.75],[4468,0.76],[4477,0.75],[4484,0.64],[4491,0.53],[4499,0.57],[4507,0.64],[4516,0.67],[4525,0.75],[4534,0.8],[4543,0.89],[4553,0.92],[4562,0.93],[4571,0.93],[4581,0.91],[4590,0.9],[4599,0.88],[4608,0.86],[4618,0.79],[4626,0.72],[4633,0.8],[4641,0.86],[4649,0.99],[4657,0.99],[4665,0.79],[4671,0.57],[4677,0.45],[4683,0.5],[4690,0.57],[4698,0.46],[4707,0.49],[4717,0.64],[4725,0.79],[4735,0.93],[4744,0.96],[4753,0.95],[4763,0.93],[4772,0.86],[4781,0.72],[4791,0.5],[4803,0.46],[4814,0.44],[4825,0.43],[4834,0.28],[4840,0.17],[4850,0.28],[4856,0.36],[4862,0.73],[4868,0.36],[4874,0.21],[4881,0.17],[4887,0.03],[4897,0.14],[4906,0.1],[4915,0.07],[4924,0.14],[4933,0.36],[4943,0.45],[4952,0.28],[4961,0.39],[4977,0.36],[4989,0.37],[5006,0.37],[5023,0.38],[5034,0.44],[5046,0.51],[5057,0.56],[5075,0.58],[5092,0.6],[5109,0.62],[5126,0.62],[5149,0.62],[5167,0.61],[5184,0.58],[5195,0.59],[5207,0.57],[5218,0.51],[5230,0.5],[5241,0.54],[5247,0.43],[5253,0.36],[5259,0.14],[5264,0.36],[5270,0.21],[5276,0.14],[5282,0.43],[5287,0.32],[5297,0.25],[5305,0.32],[5313,0.23],[5322,0.39],[5331,0.5],[5339,0.25],[5347,0.32],[5356,0.83],[5368,0.84],[5379,0.84],[5391,0.85],[5403,0.86],[5411,0.9],[5417,0.86],[5425,0.73],[5432,0.67],[5439,0.69],[5448,0.68],[5460,0.77],[5471,0.75],[5483,0.75],[5500,0.75],[5515,0.76],[5523,0.79],[5531,0.95],[5538,0.79],[5545,0.72],[5552,0.73],[5559,0.67],[5565,0.69],[5572,0.64],[5580,0.62],[5592,0.62],[5609,0.61],[5618,0.72],[5625,0.93],[5632,0.86],[5641,0.82],[5651,0.83],[5661,0.84],[5672,0.84],[5684,0.84],[5695,0.84],[5707,0.83],[5716,0.79],[5724,0.75],[5733,0.7],[5741,0.64],[5749,0.59],[5756,0.57]]

const palmYReal: Pt[] = [[0,0.46],[10,0.48],[25,0.57],[36,0.57],[48,0.54],[67,0.54],[84,0.55],[99,0.55],[109,0.54],[130,0.54],[151,0.53],[166,0.51],[178,0.46],[189,0.41],[199,0.4],[208,0.34],[216,0.26],[229,0.16],[245,0.06],[260,0.01],[273,0],[287,0.03],[308,0.16],[329,0.27],[350,0.41],[361,0.5],[371,0.47],[382,0.41],[392,0.39],[403,0.41],[413,0.5],[426,0.63],[438,0.73],[451,0.83],[465,0.92],[478,0.98],[486,1.0],[497,0.98],[507,0.98],[518,0.96],[535,0.82],[549,0.69],[564,0.54],[574,0.43],[585,0.46],[597,0.47],[612,0.48],[623,0.46],[633,0.48],[648,0.48],[665,0.48],[686,0.47],[706,0.48],[727,0.48],[748,0.47],[769,0.48],[784,0.48],[801,0.5],[815,0.51],[832,0.51],[853,0.5],[874,0.5],[895,0.5],[927,0.5],[941,0.5],[950,0.7],[958,0.81],[975,0.84],[990,0.87],[1000,0.89],[1015,0.93],[1032,0.94],[1046,0.94],[1059,0.93],[1073,0.93],[1084,0.93],[1098,0.92],[1111,0.93],[1126,0.91],[1138,0.88],[1151,0.87],[1164,0.86],[1178,0.85],[1195,0.85],[1210,0.84],[1220,0.79],[1235,0.75],[1247,0.74],[1260,0.67],[1273,0.65],[1289,0.64],[1314,0.64],[1329,0.63],[1342,0.6],[1352,0.56],[1367,0.48],[1382,0.43],[1394,0.35],[1409,0.31],[1426,0.29],[1440,0.29],[1453,0.27],[1461,0.24],[1472,0.24],[1486,0.29],[1499,0.48],[1514,0.47],[1530,0.46],[1545,0.46],[1562,0.45],[1577,0.44],[1591,0.44],[1608,0.45],[1621,0.46],[1633,0.54],[1650,0.66],[1665,0.72],[1677,0.72],[1692,0.68],[1706,0.66],[1723,0.66],[1738,0.65],[1755,0.63],[1776,0.61],[1797,0.61],[1818,0.61],[1839,0.65],[1853,0.64],[1870,0.63],[1885,0.64],[1901,0.65],[1916,0.64],[1927,0.74],[1939,0.73],[1954,0.71],[1969,0.7],[1975,0.58],[1990,0.55],[2006,0.55],[2023,0.58],[2038,0.57],[2054,0.56],[2069,0.57],[2090,0.57],[2111,0.58],[2132,0.58],[2153,0.59],[2174,0.59],[2184,0.62],[2199,0.57],[2212,0.59],[2226,0.61],[2237,0.56],[2252,0.48],[2264,0.38],[2279,0.23],[2290,0.16],[2300,0.17],[2310,0.18],[2325,0.19],[2346,0.2],[2360,0.2],[2373,0.24],[2383,0.27],[2398,0.26],[2412,0.24],[2425,0.24],[2440,0.34],[2450,0.43],[2465,0.61],[2480,0.7],[2495,0.76],[2510,0.81],[2526,0.82],[2540,0.83],[2553,0.84],[2568,0.84],[2581,0.83],[2596,0.82],[2613,0.81],[2627,0.82],[2642,0.81],[2655,0.81],[2670,0.76],[2680,0.7],[2691,0.66],[2702,0.63],[2713,0.61],[2726,0.59],[2738,0.57],[2753,0.57],[2767,0.58],[2784,0.62],[2799,0.64],[2816,0.65],[2837,0.65],[2851,0.65],[2868,0.64],[2889,0.62],[2910,0.61],[2931,0.6],[2947,0.6],[2968,0.61],[2989,0.61],[3011,0.63],[3021,0.65],[3036,0.66],[3053,0.68],[3074,0.69],[3095,0.69],[3116,0.69],[3138,0.7],[3148,0.71],[3159,0.7],[3169,0.74],[3180,0.73],[3191,0.68],[3201,0.66],[3218,0.63],[3233,0.6],[3254,0.59],[3269,0.56],[3282,0.48],[3294,0.38],[3307,0.27],[3320,0.18],[3332,0.14],[3345,0.13],[3358,0.12],[3371,0.11],[3385,0.1],[3398,0.09],[3413,0.09],[3426,0.12],[3438,0.25],[3451,0.38],[3464,0.48],[3476,0.54],[3489,0.6],[3500,0.64],[3515,0.65],[3529,0.64],[3540,0.57],[3550,0.57],[3572,0.57],[3593,0.57],[3608,0.59],[3620,0.63],[3631,0.68],[3642,0.66],[3656,0.65],[3678,0.65],[3699,0.65],[3720,0.65],[3741,0.66],[3756,0.68],[3766,0.66],[3777,0.76],[3788,0.79],[3798,0.84],[3811,0.88],[3826,0.92],[3841,0.91],[3853,0.89],[3868,0.91],[3883,0.89],[3900,0.88],[3917,0.88],[3932,0.87],[3946,0.87],[3963,0.86],[3980,0.85],[3995,0.85],[4016,0.85],[4037,0.84],[4052,0.84],[4065,0.81],[4080,0.76],[4090,0.7],[4101,0.62],[4116,0.61],[4133,0.62],[4150,0.6],[4164,0.59],[4186,0.6],[4207,0.61],[4222,0.61],[4239,0.6],[4256,0.58],[4277,0.58],[4302,0.57],[4323,0.57],[4344,0.57],[4357,0.56],[4370,0.57],[4387,0.6],[4404,0.6],[4419,0.63],[4433,0.63],[4450,0.62],[4463,0.59],[4476,0.56],[4489,0.38],[4501,0.28],[4514,0.23],[4527,0.16],[4541,0.1],[4556,0.07],[4569,0.07],[4582,0.14],[4595,0.12],[4607,0.1],[4620,0.05],[4633,0.02],[4645,0.01],[4658,0.03],[4671,0.07],[4683,0.12],[4696,0.21],[4709,0.3],[4721,0.4],[4736,0.48],[4751,0.54],[4768,0.57],[4785,0.58],[4800,0.63],[4815,0.68],[4832,0.76],[4849,0.78],[4863,0.78],[4878,0.8],[4891,0.81],[4906,0.82],[4921,0.81],[4933,0.81],[4945,0.76],[4959,0.76],[4980,0.75],[5001,0.75],[5022,0.76],[5039,0.73],[5054,0.73],[5064,0.72],[5075,0.73],[5090,0.71],[5102,0.69],[5117,0.67],[5132,0.66],[5149,0.67],[5164,0.65],[5177,0.62],[5191,0.59],[5202,0.57],[5217,0.57],[5234,0.58],[5255,0.58],[5276,0.58],[5297,0.59],[5318,0.58],[5340,0.59],[5361,0.58],[5382,0.58],[5399,0.57],[5409,0.62],[5420,0.66],[5435,0.63],[5445,0.52],[5458,0.42],[5471,0.3],[5484,0.21],[5498,0.2],[5513,0.2],[5526,0.25],[5541,0.34],[5551,0.38],[5564,0.39],[5579,0.38],[5594,0.38],[5604,0.34],[5619,0.32],[5632,0.29],[5642,0.25],[5657,0.25],[5678,0.26],[5695,0.27],[5710,0.41],[5725,0.54],[5736,0.61],[5746,0.58],[5763,0.58]]
const palmYPred: Pt[] = [[0,0.57],[6,0.66],[13,0.57],[19,0.6],[27,0.59],[34,0.43],[40,0.78],[46,0.57],[50,0.32],[57,0.43],[67,0.41],[78,0.4],[99,0.41],[119,0.4],[136,0.35],[145,0.41],[153,0.35],[161,0.51],[172,0.44],[182,0.38],[195,0.27],[208,0.24],[220,0.24],[229,0.19],[245,0.08],[256,0.02],[266,0],[287,0],[304,0.005],[317,0.08],[329,0.27],[342,0.33],[352,0.29],[363,0.35],[375,0.34],[388,0.36],[400,0.34],[409,0.33],[417,0.41],[426,0.56],[438,0.76],[451,0.84],[465,0.94],[478,0.98],[492,1.0],[507,1.0],[520,1.0],[535,0.98],[543,0.92],[551,0.83],[560,0.63],[568,0.5],[574,0.44],[585,0.52],[593,0.48],[602,0.43],[612,0.4],[627,0.38],[639,0.39],[654,0.4],[669,0.39],[686,0.38],[698,0.34],[706,0.66],[717,0.38],[727,0.63],[738,0.63],[748,0.6],[759,0.56],[769,0.56],[780,0.49],[790,0.38],[801,0.55],[811,0.51],[822,0.56],[832,0.51],[843,0.41],[853,0.63],[862,0.41],[874,0.41],[895,0.41],[916,0.42],[941,0.42],[952,0.78],[958,0.98],[969,0.66],[979,0.98],[990,1.0],[1011,1.0],[1032,1.0],[1052,1.0],[1063,0.99],[1075,0.92],[1084,0.98],[1101,0.99],[1115,1.0],[1126,1.0],[1138,0.97],[1147,0.78],[1157,0.4],[1168,0.65],[1178,0.85],[1189,0.83],[1199,0.81],[1210,0.79],[1220,0.85],[1231,0.73],[1241,0.69],[1252,0.63],[1262,0.63],[1273,0.85],[1281,0.96],[1289,0.78],[1298,0.66],[1314,0.65],[1335,0.66],[1352,0.67],[1360,0.69],[1373,0.56],[1386,0.48],[1398,0.41],[1411,0.34],[1423,0.33],[1440,0.34],[1453,0.35],[1465,0.5],[1478,0.7],[1486,0.71],[1495,0.48],[1503,0.27],[1512,0.06],[1520,0.27],[1528,0.17],[1537,0.27],[1545,0.3],[1556,0.44],[1566,0.41],[1579,0.48],[1591,0.85],[1600,0.56],[1608,0.41],[1618,0.34],[1629,0.15],[1639,0.16],[1650,0.34],[1660,0.48],[1671,0.46],[1681,0.38],[1692,0.56],[1702,0.63],[1713,0.74],[1723,0.91],[1734,0.74],[1744,0.67],[1755,0.76],[1765,0.63],[1776,0.81],[1786,0.73],[1797,0.69],[1807,0.78],[1818,0.6],[1828,0.56],[1839,0.92],[1847,1.0],[1856,0.85],[1866,0.5],[1870,0.98],[1881,0.98],[1891,0.98],[1901,0.98],[1912,0.63],[1922,0.41],[1933,0.43],[1943,0.63],[1954,0.44],[1964,0.44],[1975,0.92],[1981,1.0],[1990,0.41],[2002,0.56],[2017,0.53],[2027,0.51],[2038,0.56],[2048,0.52],[2059,0.5],[2069,0.57],[2080,0.47],[2090,0.46],[2101,0.64],[2111,0.62],[2122,0.59],[2132,0.54],[2143,0.48],[2153,0.62],[2164,0.56],[2174,0.85],[2184,0.92],[2195,0.46],[2205,0.76],[2216,0.78],[2226,0.76],[2237,0.79],[2247,0.78],[2258,0.63],[2268,0.41],[2279,0.19],[2290,0.1],[2300,0.02],[2310,0.12],[2321,0.34],[2331,0.37],[2342,0.3],[2352,0.45],[2363,0.51],[2373,0.34],[2384,0.3],[2394,0.13],[2405,0.27],[2415,0.27],[2426,0.23],[2436,0.41],[2447,0.59],[2457,0.74],[2468,0.89],[2478,0.98],[2493,1.0],[2510,1.0],[2522,0.99],[2531,0.78],[2541,0.98],[2552,0.76],[2562,0.53],[2573,0.7],[2583,0.78],[2594,0.85],[2604,0.7],[2614,0.97],[2625,1.0],[2635,1.0],[2646,0.98],[2656,0.85],[2667,0.52],[2677,0.63],[2688,0.56],[2698,0.51],[2709,0.54],[2720,0.43],[2730,0.45],[2741,0.52],[2751,0.56],[2762,0.57],[2772,0.48],[2783,0.34],[2793,0.3],[2804,0.48],[2814,0.38],[2825,0.48],[2835,0.63],[2845,0.67],[2856,0.78],[2866,0.79],[2876,0.59],[2887,0.69],[2897,0.79],[2908,0.6],[2918,0.62],[2929,0.57],[2947,0.55],[2968,0.62],[2989,0.67],[3011,0.72],[3028,0.7],[3038,0.25],[3047,0.73],[3053,1.0],[3061,0.34],[3070,0.7],[3080,0.66],[3091,0.63],[3102,0.69],[3112,0.44],[3121,0.43],[3129,0.66],[3138,0.59],[3148,0.48],[3159,0.41],[3169,0.63],[3180,0.62],[3191,0.96],[3201,0.85],[3212,0.59],[3222,0.59],[3233,0.81],[3243,0.87],[3254,0.88],[3265,0.87],[3275,0.85],[3286,0.7],[3296,0.56],[3307,0.41],[3318,0.23],[3328,0.15],[3339,0.13],[3349,0.13],[3360,0.19],[3371,0.12],[3381,0.09],[3392,0.08],[3402,0.06],[3413,0.05],[3423,0.05],[3434,0.08],[3445,0.23],[3455,0.41],[3466,0.56],[3476,0.63],[3487,0.74],[3498,0.85],[3508,0.92],[3519,1.0],[3527,0.89],[3536,0.72],[3544,0.57],[3553,0.56],[3561,0.54],[3572,0.54],[3582,0.54],[3593,0.54],[3603,0.53],[3614,0.41],[3625,0.79],[3635,0.76],[3646,0.75],[3667,0.75],[3688,0.75],[3709,0.75],[3730,0.76],[3752,0.77],[3769,0.78],[3781,0.82],[3794,0.87],[3807,0.91],[3819,0.94],[3832,0.96],[3845,0.96],[3853,0.95],[3862,0.85],[3870,0.76],[3879,0.74],[3889,0.65],[3900,0.85],[3910,0.97],[3921,0.99],[3932,0.95],[3942,0.95],[3953,0.94],[3963,0.92],[3974,0.94],[3985,0.93],[3995,0.85],[4006,0.79],[4016,0.93],[4027,0.93],[4037,0.93],[4048,0.93],[4059,0.92],[4069,0.87],[4080,0.7],[4090,0.48],[4101,0.27],[4112,0.24],[4122,0.16],[4133,0.19],[4141,0.79],[4150,0.34],[4158,0.56],[4164,0.68],[4175,0.34],[4186,0.59],[4196,0.56],[4207,0.59],[4217,0.51],[4228,0.48],[4239,0.6],[4249,0.56],[4260,0.65],[4270,0.68],[4281,0.66],[4292,0.56],[4302,0.38],[4313,0.28],[4323,0.1],[4334,0.08],[4344,0.08],[4355,0.08],[4366,0.1],[4376,0.19],[4387,0.3],[4397,0.41],[4408,0.44],[4419,0.46],[4429,0.46],[4440,0.46],[4450,0.44],[4461,0.43],[4472,0.41],[4482,0.34],[4493,0.14],[4503,0.32],[4514,0.3],[4524,0.27],[4535,0.23],[4546,0.19],[4556,0.16],[4567,0.16],[4578,0.18],[4588,0.18],[4599,0.18],[4609,0.16],[4620,0.35],[4631,0.03],[4641,0.02],[4652,0.03],[4662,0.05],[4673,0.08],[4683,0.06],[4694,0.08],[4704,0.06],[4715,0.05],[4726,0.05],[4736,0.06],[4747,0.09],[4757,0.16],[4768,0.27],[4779,0.38],[4789,0.47],[4800,0.56],[4810,0.66],[4821,0.72],[4832,0.79],[4842,0.86],[4853,0.59],[4863,0.74],[4874,0.63],[4885,0.81],[4895,0.62],[4906,0.69],[4916,0.62],[4927,0.63],[4937,0.85],[4948,0.96],[4959,0.99],[4969,1.0],[4984,1.0],[5001,0.99],[5022,0.99],[5037,0.98],[5047,0.89],[5056,0.78],[5064,0.76],[5075,0.76],[5085,0.76],[5096,0.74],[5107,0.72],[5117,0.7],[5128,0.69],[5138,0.69],[5149,0.67],[5159,0.68],[5170,0.67],[5181,0.64],[5191,0.58],[5202,0.57],[5212,0.57],[5223,0.57],[5234,0.56],[5244,0.57],[5255,0.79],[5265,0.48],[5276,0.85],[5287,0.56],[5297,0.69],[5308,0.56],[5318,0.69],[5329,0.52],[5340,0.56],[5350,0.19],[5361,0.13],[5371,0.12],[5382,0.13],[5392,0.12],[5403,0.11],[5413,0.15],[5424,0.56],[5435,0.41],[5445,0.34],[5456,0.27],[5466,0.23],[5477,0.19],[5488,0.16],[5498,0.12],[5509,0.1],[5520,0.1],[5530,0.12],[5541,0.45],[5551,0.45],[5562,0.39],[5572,0.38],[5583,0.41],[5594,0.34],[5604,0.3],[5615,0.27],[5625,0.19],[5636,0.07],[5646,0.4],[5657,0.43],[5672,0.43],[5688,0.44],[5703,0.44],[5716,0.56],[5731,0.62],[5746,0.64],[5758,0.64]]

const xTicks = [0, 1000, 2000, 3000, 4000, 5000, 6000]
const yTicks = [0, 0.2, 0.4, 0.6, 0.8, 1.0]

const PAGE_W = 4385
const PAGE_H = 5366
const W = 1852
const H = 912
const YW = 110
const XH = 100
const RM = 60
const SANS = '"DejaVu Sans", sans-serif'
const BLUE = '#1f77b4'
const ORANGE = '#ff7f0e'

type LegendLoc = 'centerLeft' | 'lowerRight' | 'upperRight' | 'lowerCenter'

const panels = [
  { id: 'a', cap: 'Thumb', name: 'Thumb', left: 145, top: 84, legend: 'centerLeft' as LegendLoc, real: thumbReal, pred: thumbPred },
  { id: 'b', cap: 'Index', name: 'Index Finger', left: 2502, top: 86, legend: 'lowerRight' as LegendLoc, real: indexReal, pred: indexPred },
  { id: 'c', cap: 'Middle', name: 'Middle Finger', left: 141, top: 1453, legend: 'centerLeft' as LegendLoc, real: middleReal, pred: middlePred },
  { id: 'd', cap: 'Ring', name: 'Ring Finger', left: 2502, top: 1457, legend: 'centerLeft' as LegendLoc, real: ringReal, pred: ringPred },
  { id: 'e', cap: 'Little', name: 'Little Finger', left: 143, top: 2828, legend: 'upperRight' as LegendLoc, real: littleReal, pred: littlePred },
  { id: 'f', cap: 'Palm X', name: 'PalmX', left: 2499, top: 2825, legend: 'lowerCenter' as LegendLoc, real: palmXReal, pred: palmXPred },
  { id: 'g', cap: 'Palm Y', name: 'PalmY', left: 1318, top: 4197, legend: 'lowerCenter' as LegendLoc, real: palmYReal, pred: palmYPred },
]

const toRows = (pts: Pt[]) => pts.map(([s, v]) => ({ s, v }))

function legendPos(loc: LegendLoc, left: number, top: number): React.CSSProperties {
  if (loc === 'centerLeft') return { left: left + 14, top: top + H / 2, transform: 'translateY(-50%)' }
  if (loc === 'lowerRight') return { left: left + W - 12, top: top + H - 10, transform: 'translate(-100%, -100%)' }
  if (loc === 'upperRight') return { left: left + W - 12, top: top + 14, transform: 'translateX(-100%)' }
  return { left: left + W / 2, top: top + H - 10, transform: 'translate(-50%, -100%)' }
}

function LegendBox({ name, style }: { name: string; style: React.CSSProperties }) {
  const row = (color: string, dash: string | undefined, text: string) => (
    <div style={{ display: 'flex', alignItems: 'center', height: 38 }}>
      <svg width={56} height={10}>
        <line x1={0} y1={5} x2={56} y2={5} stroke={color} strokeOpacity={dash ? 1 : 0.7} strokeWidth={3.8} strokeDasharray={dash} />
      </svg>
      <span style={{ marginLeft: 20, whiteSpace: 'nowrap' }}>{text}</span>
    </div>
  )
  return (
    <div style={{ position: 'absolute', ...style, background: '#fff', border: '2px solid #d6d6d6', borderRadius: 8, padding: '6px 12px 6px 9px', fontFamily: SANS, fontSize: 27, color: '#000' }}>
      {row(BLUE, undefined, `Real state (${name})`)}
      {row(ORANGE, '14 6', `RL prediction (${name})`)}
    </div>
  )
}

function Panel({ p }: { p: typeof panels[number] }) {
  const tick = { fill: '#000', fontSize: 26, fontFamily: SANS }
  return (
    <>
      <div style={{ position: 'absolute', left: p.left, top: p.top - 48, width: W, textAlign: 'center', fontFamily: SANS, fontSize: 31, lineHeight: '40px' }}>
        RL prediction vs Real state for {p.name}
      </div>
      <div style={{ position: 'absolute', left: p.left - YW, top: p.top }}>
        <LineChart width={YW + W + RM} height={H + XH} margin={{ top: 0, right: RM, bottom: 0, left: 0 }}>
          <XAxis type="number" dataKey="s" domain={[-288.5, 6058.5]} ticks={xTicks} height={XH}
            axisLine={false} tickLine={{ stroke: '#000', strokeWidth: 2 }} tickSize={9} tickMargin={10}
            tick={tick} allowDataOverflow interval={0} />
          <YAxis type="number" domain={[-0.05, 1.05]} ticks={yTicks} width={YW}
            axisLine={false} tickLine={{ stroke: '#000', strokeWidth: 2 }} tickSize={9} tickMargin={10}
            tick={tick} tickFormatter={(v: number) => v.toFixed(1)} allowDataOverflow interval={0} />
          <Line data={toRows(p.real)} dataKey="v" type="linear" stroke={BLUE} strokeOpacity={0.7} strokeWidth={3.8} dot={false} activeDot={false} isAnimationActive={false} />
          <Line data={toRows(p.pred)} dataKey="v" type="linear" stroke={ORANGE} strokeWidth={3.8} strokeDasharray="14 6" dot={false} activeDot={false} isAnimationActive={false} />
        </LineChart>
      </div>
      {/* axes frame */}
      <div style={{ position: 'absolute', left: p.left - 1, top: p.top - 1, width: W + 2, height: H + 2, border: '2px solid #000', boxSizing: 'border-box', pointerEvents: 'none' }} />
      <div style={{ position: 'absolute', left: p.left - 92, top: p.top + H / 2, transform: 'translate(-50%, -50%) rotate(-90deg)', fontFamily: SANS, fontSize: 27, whiteSpace: 'nowrap' }}>
        Normalized Value
      </div>
      <div style={{ position: 'absolute', left: p.left, top: p.top + H + 48, width: W, textAlign: 'center', fontFamily: SANS, fontSize: 27, lineHeight: '40px' }}>
        Step
      </div>
      <LegendBox name={p.name} style={legendPos(p.legend, p.left, p.top)} />
      <div style={{ position: 'absolute', left: p.left - 25, top: p.top + 1092 - 50, width: W, textAlign: 'center', fontFamily: '"Liberation Serif", serif', fontSize: 80, lineHeight: '100px' }}>
        (<b>{p.id}</b>) {p.cap}
      </div>
    </>
  )
}

export default function App() {
  // the figure is drawn at its native size and shrunk only if the window is smaller
  const vw = typeof window !== 'undefined' ? window.innerWidth : PAGE_W
  const vh = typeof window !== 'undefined' ? window.innerHeight : PAGE_H
  const s = Math.min(1, vw / PAGE_W, vh / PAGE_H)
  const offX = Math.max(0, (vw - PAGE_W * s) / 2)
  return (
    <div style={{ position: 'absolute', left: 0, top: 0, width: Math.max(vw, 1), height: Math.max(vh, 1), background: '#fff', overflow: 'hidden' }}>
      <div style={{ position: 'absolute', left: offX, top: 0, width: PAGE_W, height: PAGE_H, transform: `scale(${s})`, transformOrigin: '0 0', color: '#000' }}>
        {panels.map(p => <Panel key={p.id} p={p} />)}
      </div>
    </div>
  )
}
